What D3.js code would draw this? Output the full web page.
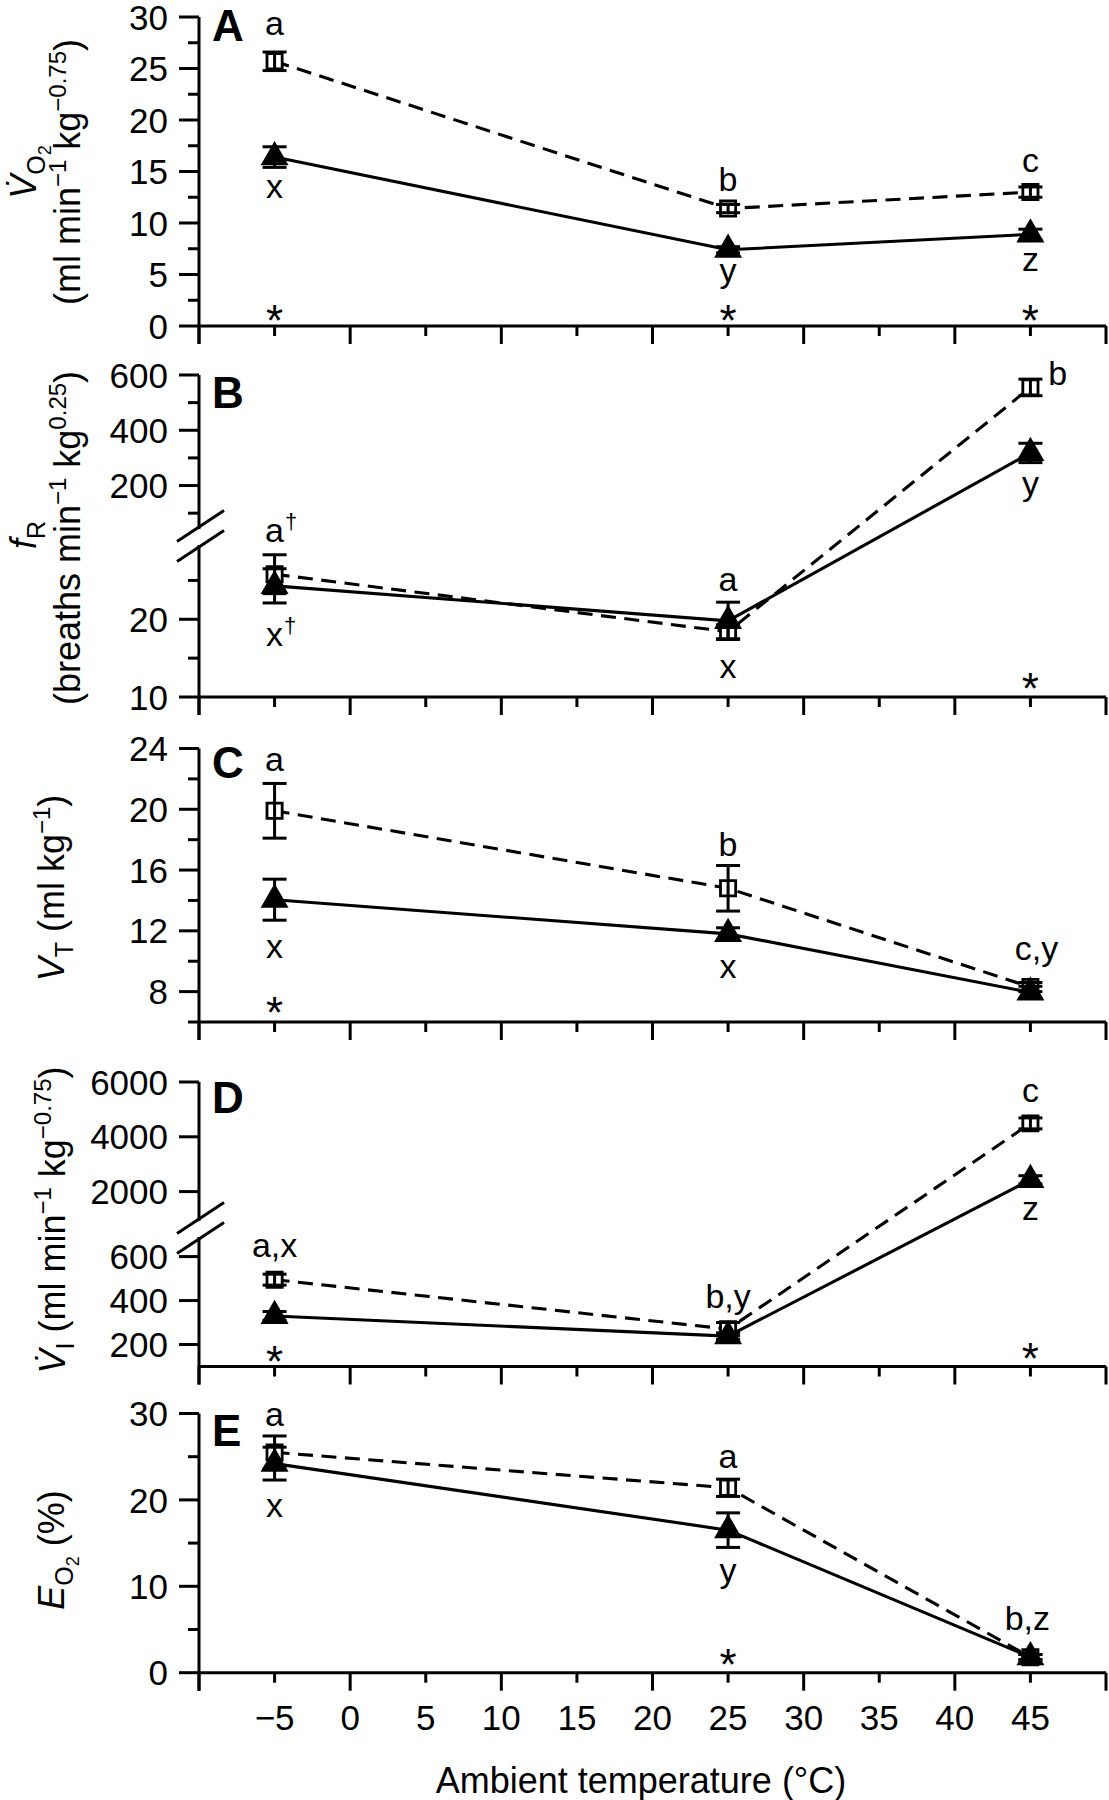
<!DOCTYPE html>
<html><head><meta charset="utf-8">
<script src="https://cdn.jsdelivr.net/npm/d3@7"></script>
<style>
body{margin:0;background:#fff}
svg{display:block}
text{font-family:"Liberation Sans",Arial,Helvetica,sans-serif;fill:#000}
</style>
</head><body><div id="chart"></div>
<script>
// ---------------- DATA ----------------
const temps = [-5, 25, 45];
const xTicks = [-10, -5, 0, 5, 10, 15, 20, 25, 30, 35, 40, 45, 50];
const xTickLabels = [-5, 0, 5, 10, 15, 20, 25, 30, 35, 40, 45];
const xTitle = "Ambient temperature (\u00B0C)";

// Panel A: VO2
const vo2Open = [25.7, 11.4, 13.0];
const vo2OpenSE = [0.9, 0.4, 0.5];
const vo2Filled = [16.4, 7.4, 8.9];
const vo2FilledSE = [1.0, 0.3, 0.5];
const ticksA = [0, 5, 10, 15, 20, 25, 30];
const minorA = [2.5, 7.5, 12.5, 17.5, 22.5, 27.5];

// Panel B: fR (broken axis)
const frOpen = [25.8, 18.4, 555];
const frOpenSE = [2.5, 0.9, 30];
const frFilled = [24.3, 19.8, 318];
const frFilledSE = [2.2, 2.4, 35];
const ticksBLow = [10, 20];
const minorBLow = [15, 25];
const ticksBHigh = [200, 400, 600];
const minorBHigh = [100, 300, 500];

// Panel C: VT
const vtOpen = [19.9, 14.8, 8.3];
const vtOpenSE = [1.8, 1.5, 0.3];
const vtFilled = [14.05, 11.8, 7.95];
const vtFilledSE = [1.35, 0.4, 0.4];
const ticksC = [8, 12, 16, 20, 24];
const minorC = [6, 10, 14, 18, 22];

// Panel D: VI (broken axis)
const viOpen = [495, 270, 4490];
const viOpenSE = [25, 30, 200];
const viFilled = [330, 238, 2430];
const viFilledSE = [20, 15, 150];
const ticksDLow = [200, 400, 600];
const ticksDHigh = [2000, 4000, 6000];

// Panel E: EO2
const eo2Open = [25.5, 21.4, 1.8];
const eo2OpenSE = [1.9, 1.0, 0.3];
const eo2Filled = [24.2, 16.5, 1.8];
const eo2FilledSE = [1.9, 2.0, 0.3];
const ticksE = [0, 10, 20, 30];
const minorE = [5, 15, 25];

// Significance letters (temperature, value at text baseline, text)
const lettersA = [
  {t: -5, v: 28.3, s: "a"}, {t: -5, v: 12.4, s: "x"},
  {t: 25, v: 13.1, s: "b"}, {t: 25, v: 4.25, s: "y"},
  {t: 45, v: 15.0, s: "c"}, {t: 45, v: 5.3, s: "z"}];
const starsA = [{t: -5, v: 1.5}, {t: 25, v: 1.5}, {t: 45, v: 1.5}];
const lettersB = [
  {t: -5, v: 29.9, s: "a", sup: "\u2020"}, {t: -5, v: 16.5, s: "x", sup: "\u2020"},
  {t: 25, v: 23.6, s: "a"}, {t: 25, v: 12.4, s: "x"},
  {t: 46.8, v: 565, s: "b"}, {t: 45, v: 166, s: "y"}];
const starsB = [{t: 45, v: 12.4}];
const lettersC = [
  {t: -5, v: 22.5, s: "a"}, {t: -5, v: 10.2, s: "x"},
  {t: 25, v: 16.9, s: "b"}, {t: 25, v: 8.9, s: "x"},
  {t: 45.4, v: 10.05, s: "c,y"}];
const starsC = [{t: -5, v: 7.3}];
const lettersD = [
  {t: -5, v: 599, s: "a,x"}, {t: 25, v: 366, s: "b,y"},
  {t: 45, v: 5273, s: "c"}, {t: 45, v: 964, s: "z"}];
const starsD = [{t: -5, v: 170}, {t: 45, v: 182}];
const lettersE = [
  {t: -5, v: 28.6, s: "a"}, {t: -5, v: 18.0, s: "x"},
  {t: 25, v: 23.7, s: "a"}, {t: 25, v: 10.5, s: "y"},
  {t: 44.8, v: 4.9, s: "b,z"}];
const starsE = [{t: 25, v: 2.15}];

// ---------------- LAYOUT ----------------
const W = 1109, H = 1800;
const X0 = 199, X1 = 1106;
const FONT_TICK = 35, FONT_TITLE = 36, FONT_LET = 34, FONT_PANEL = 44, FONT_STAR = 44;
const sub = 25, sub2 = 18, supS = 24;
const LW = 3.1;

const panels = [
  {label: "A", labelY: 41, open: vo2Open, openSE: vo2OpenSE, filled: vo2Filled, filledSE: vo2FilledSE,
   segs: [{domain: [0, 30], range: [326, 17], major: ticksA, minor: minorA}],
   letters: lettersA, stars: starsA,
   titles: [
     {x: 36, y: 172, parts: [{s: "V\u0307", it: true}, {s: "O", off: 9, size: sub}, {s: "2", off: 15, size: sub2}]},
     {x: 80, y: 172, parts: [{s: "(ml min"}, {s: "\u22121", off: -14, size: supS}, {s: " kg"}, {s: "\u22120.75", off: -14, size: supS}, {s: ")"}]}]},
  {label: "B", labelY: 408, open: frOpen, openSE: frOpenSE, filled: frFilled, filledSE: frFilledSE,
   segs: [{domain: [10, 29.3], range: [697, 547], major: ticksBLow, minor: minorBLow},
          {domain: [50, 600], range: [527, 375], major: ticksBHigh, minor: minorBHigh}],
   letters: lettersB, stars: starsB,
   titles: [
     {x: 36, y: 535, parts: [{s: "f", it: true}, {s: "R", off: 9, size: sub}]},
     {x: 80, y: 538, parts: [{s: "(breaths min"}, {s: "\u22121", off: -14, size: supS}, {s: " kg"}, {s: "0.25", off: -14, size: supS}, {s: ")"}]}]},
  {label: "C", labelY: 778, open: vtOpen, openSE: vtOpenSE, filled: vtFilled, filledSE: vtFilledSE,
   segs: [{domain: [6, 24], range: [1022, 748.5], major: ticksC, minor: minorC}],
   letters: lettersC, stars: starsC,
   titles: [{x: 64, y: 888, parts: [{s: "V", it: true}, {s: "T", off: 9, size: sub}, {s: " (ml kg"}, {s: "\u22121", off: -14, size: supS}, {s: ")"}]}]},
  {label: "D", labelY: 1113, open: viOpen, openSE: viOpenSE, filled: viFilled, filledSE: viFilledSE,
   segs: [{domain: [100, 680], range: [1366.5, 1239], major: ticksDLow, minor: []},
          {domain: [1000, 6000], range: [1219, 1082], major: ticksDHigh, minor: []}],
   letters: lettersD, stars: starsD,
   titles: [{x: 65, y: 1220, parts: [{s: "V\u0307", it: true}, {s: "I", off: 9, size: sub}, {s: " (ml min"}, {s: "\u22121", off: -14, size: supS}, {s: " kg"}, {s: "\u22120.75", off: -14, size: supS}, {s: ")"}]}]},
  {label: "E", labelY: 1446, open: eo2Open, openSE: eo2OpenSE, filled: eo2Filled, filledSE: eo2FilledSE,
   segs: [{domain: [0, 30], range: [1672.7, 1413.5], major: ticksE, minor: minorE}],
   letters: lettersE, stars: starsE,
   titles: [{x: 64, y: 1550, parts: [{s: "E", it: true}, {s: "O", off: 9, size: sub}, {s: "2", off: 15, size: sub2}, {s: " (%)"}]}]}
];

// ---------------- DRAW ----------------
const svg = d3.select("#chart").append("svg").attr("width", W).attr("height", H);
svg.append("rect").attr("width", W).attr("height", H).attr("fill", "#fff");
const x = d3.scaleLinear().domain([-10, 50]).range([X0, X1]);
const fmt = v => v < 0 ? "\u2212" + Math.abs(v) : String(v);

function richText(g, t) {
  const txt = g.append("text")
    .attr("transform", `translate(${t.x},${t.y}) rotate(-90)`)
    .attr("text-anchor", "middle").attr("font-size", FONT_TITLE);
  let prev = 0;
  t.parts.forEach(p => {
    const off = p.off || 0;
    txt.append("tspan").attr("dy", off - prev)
      .attr("font-size", p.size || FONT_TITLE)
      .attr("font-style", p.it ? "italic" : null)
      .text(p.s);
    prev = off;
  });
}

panels.forEach(p => {
  const g = svg.append("g");
  const segs = p.segs.map(s => Object.assign({}, s, {scale: d3.scaleLinear().domain(s.domain).range(s.range)}));
  const segFor = v => {
    let chosen = segs[0];
    for (let i = 1; i < segs.length; i++) {
      const thr = (segs[i - 1].domain[1] + segs[i].domain[0]) / 2;
      if (v >= thr) chosen = segs[i];
    }
    return chosen;
  };
  const Y = v => segFor(v).scale(v);
  const yTop = segs[segs.length - 1].range[1];
  const yBot = segs[0].range[0];

  // y spine (extends down as the x = -10 tick)
  g.append("line").attr("x1", X0).attr("x2", X0).attr("y1", yTop).attr("y2", yBot + 18)
    .attr("stroke", "#000").attr("stroke-width", 3);
  // y ticks
  segs.forEach(s => {
    s.major.forEach(v => {
      g.append("line").attr("x1", X0 - 20).attr("x2", X0).attr("y1", s.scale(v)).attr("y2", s.scale(v))
        .attr("stroke", "#000").attr("stroke-width", 3);
      g.append("text").attr("x", X0 - 31).attr("y", s.scale(v)).attr("dy", "0.36em")
        .attr("text-anchor", "end").attr("font-size", FONT_TICK).text(v);
    });
    s.minor.forEach(v => {
      g.append("line").attr("x1", X0 - 11).attr("x2", X0).attr("y1", s.scale(v)).attr("y2", s.scale(v))
        .attr("stroke", "#000").attr("stroke-width", 3);
    });
  });
  // axis break
  if (segs.length > 1) {
    const yb1 = segs[1].range[0], yb2 = segs[0].range[1];
    g.append("rect").attr("x", X0 - 4).attr("y", yb1 + 2).attr("width", 8).attr("height", yb2 - yb1 - 4).attr("fill", "#fff");
    [yb1, yb2].forEach(yb => {
      g.append("line").attr("x1", X0 - 22).attr("y1", yb + 14.5).attr("x2", X0 + 25).attr("y2", yb - 16.5)
        .attr("stroke", "#000").attr("stroke-width", 3);
    });
  }
  // x axis
  g.append("line").attr("x1", X0).attr("x2", X1).attr("y1", yBot).attr("y2", yBot)
    .attr("stroke", "#000").attr("stroke-width", 3);
  xTicks.forEach(t => {
    const len = (t % 10 === 0) ? 18 : 10;
    g.append("line").attr("x1", x(t)).attr("x2", x(t)).attr("y1", yBot).attr("y2", yBot + len)
      .attr("stroke", "#000").attr("stroke-width", 3);
  });

  // panel label
  g.append("text").attr("x", 212).attr("y", p.labelY).attr("font-size", FONT_PANEL)
    .attr("font-weight", "bold").text(p.label);

  // titles
  p.titles.forEach(t => richText(g, t));

  // lines
  const line = d3.line().x((d, i) => x(temps[i])).y(d => Y(d));
  g.append("path").datum(p.open).attr("d", line).attr("fill", "none").attr("stroke", "#000")
    .attr("stroke-width", LW).attr("stroke-dasharray", "15,8.5");
  g.append("path").datum(p.filled).attr("d", line).attr("fill", "none").attr("stroke", "#000")
    .attr("stroke-width", LW);

  const errbars = (vals, se) => {
    vals.forEach((v, i) => {
      const s = segFor(v).scale;
      const cx = x(temps[i]);
      const y1 = s(v + se[i]), y2 = s(v - se[i]);
      g.append("line").attr("x1", cx).attr("x2", cx).attr("y1", y1).attr("y2", y2)
        .attr("stroke", "#000").attr("stroke-width", 3);
      [y1, y2].forEach(yy => g.append("line").attr("x1", cx - 12).attr("x2", cx + 12)
        .attr("y1", yy).attr("y2", yy).attr("stroke", "#000").attr("stroke-width", 3));
    });
  };
  // open squares
  p.open.forEach((v, i) => {
    g.append("path").attr("d", d3.symbol(d3.symbolSquare, 230)())
      .attr("transform", `translate(${x(temps[i])},${Y(v)})`)
      .attr("fill", "#fff").attr("stroke", "#000").attr("stroke-width", 2.8);
  });
  errbars(p.open, p.openSE);
  // filled triangles
  p.filled.forEach((v, i) => {
    g.append("path").attr("d", d3.symbol(d3.symbolTriangle, 340)())
      .attr("transform", `translate(${x(temps[i])},${Y(v)})`)
      .attr("fill", "#000");
  });
  errbars(p.filled, p.filledSE);

  // letters
  p.letters.forEach(l => {
    const tx = g.append("text").attr("x", x(l.t)).attr("y", Y(l.v))
      .attr("text-anchor", "middle").attr("font-size", FONT_LET).text(l.s);
    if (l.sup) {
      const w = tx.node().getComputedTextLength();
      g.append("text").attr("x", x(l.t) + w / 2 + 1).attr("y", Y(l.v) - 13)
        .attr("font-size", 22).text(l.sup);
    }
  });
  p.stars.forEach(s => {
    g.append("text").attr("x", x(s.t)).attr("y", Y(s.v)).attr("dy", "0.58em")
      .attr("text-anchor", "middle").attr("font-size", FONT_STAR).text("*");
  });

  // x tick labels on the last panel
  if (p.label === "E") {
    xTickLabels.forEach(t => {
      g.append("text").attr("x", x(t)).attr("y", 1730).attr("text-anchor", "middle")
        .attr("font-size", FONT_TICK).text(fmt(t));
    });
    g.append("text").attr("x", 641).attr("y", 1793).attr("text-anchor", "middle")
      .attr("font-size", FONT_TITLE).text(xTitle);
  }
});
</script>
</body></html>
